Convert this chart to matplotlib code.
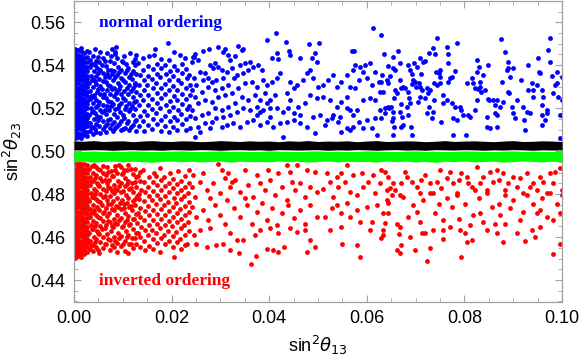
import numpy as np
import matplotlib
matplotlib.use('Agg')
import matplotlib.pyplot as plt
from matplotlib.ticker import MultipleLocator

# all values below are in units of 1e-3 (x = sin^2 theta13, y = sin^2 theta23)

# normal ordering (blue): packed column next to x = 0, then loose points
blue_strip_x = [0.2, 0.8, 1.4, 2.0, 2.6]
blue_strip_y = [
    [506.0, 507.9, 509.7, 511.8, 513.6, 515.5, 517.4, 519.3, 521.2, 523.1, 525.0, 526.9, 528.8, 530.7,
     532.6, 534.5, 536.4, 538.3, 540.2, 542.1, 544.0, 545.9, 547.6],
    [506.8, 508.6, 510.6, 512.5, 514.4, 516.3, 518.2, 520.1, 522.0, 523.9, 525.8, 527.7, 529.6, 531.5,
     533.4, 535.3, 537.2, 539.1, 541.0, 542.9, 544.8, 546.9],
    [506.3, 508.2, 510.1, 512.0, 513.9, 515.8, 517.7, 519.6, 521.5, 523.4, 525.3, 527.2, 529.1, 531.0,
     532.9, 534.8, 536.7, 538.6, 540.5, 542.4, 544.3, 546.4, 547.9],
    [507.4, 509.3, 511.2, 513.1, 515.0, 516.9, 518.8, 520.7, 522.6, 524.5, 526.4, 528.3, 530.2, 532.1,
     534.0, 535.9, 537.8, 539.7, 541.6, 543.5, 545.6],
    [507.0, 509.0, 511.5, 513.4, 515.6, 517.2, 519.9, 521.8, 523.5, 525.7, 527.4, 529.8, 531.6, 533.7,
     535.2, 537.5, 539.4, 541.3, 543.9, 546.8],
]
blue_pts = [
    (3.2, 509.5), (3.3, 513.0), (3.1, 516.8), (3.4, 520.3), (3.2, 524.1), (3.3, 528.0), (3.1, 531.7),
    (3.4, 535.2), (3.2, 539.0), (3.3, 542.6), (3.1, 546.0), (3.9, 507.8), (3.8, 511.3), (4.0, 515.0),
    (3.9, 518.6), (3.8, 522.4), (4.0, 526.1), (3.9, 529.9), (3.8, 533.5), (4.0, 537.2), (3.9, 540.8),
    (3.8, 544.2), (4.6, 509.0), (4.5, 512.8), (4.7, 516.5), (4.6, 520.5), (4.5, 524.0), (4.7, 527.6),
    (4.6, 531.3), (4.5, 535.0), (4.7, 538.8), (4.6, 542.0), (4.3, 547.4), (5.3, 508.5), (5.2, 511.8),
    (5.4, 515.7), (5.3, 519.0), (5.2, 522.8), (5.4, 526.5), (5.3, 530.2), (5.2, 533.8), (5.4, 537.6),
    (5.2, 541.3), (5.3, 546.3), (5.9, 510.3), (6.0, 514.2), (5.8, 518.0), (6.0, 521.6), (5.9, 525.4),
    (5.8, 529.0), (6.0, 532.8), (5.9, 536.5), (5.8, 540.2), (6.0, 543.6),
    (3.55, 511.2), (3.6, 518.0), (3.5, 525.9), (3.6, 533.0), (3.55, 540.5), (4.25, 510.5),
    (4.3, 517.9), (4.2, 525.2), (4.3, 532.6), (4.25, 540.1), (4.95, 514.3), (5.0, 521.6),
    (4.9, 529.0), (5.0, 536.3), (4.95, 543.8), (6.25, 511.5), (6.3, 519.2), (6.2, 526.8),
    (6.3, 534.4), (6.25, 541.8), (6.95, 514.6), (7.0, 523.4), (6.9, 530.6), (7.0, 537.8),
    (7.7, 512.8), (7.65, 521.2), (7.75, 529.0), (7.7, 536.0), (7.6, 544.2), (8.5, 511.0),
    (8.45, 519.6), (8.55, 527.0), (8.5, 534.4), (8.45, 545.0), (9.25, 512.6), (9.3, 521.4),
    (9.2, 529.0), (9.3, 537.0), (10.0, 510.5), (9.95, 517.0), (10.05, 524.8), (10.0, 533.0),
    (10.0, 541.4), (10.8, 513.0), (10.75, 521.0), (10.85, 529.4), (10.8, 537.6), (11.6, 511.4),
    (11.55, 519.6), (11.65, 528.0), (11.6, 535.8), (12.4, 514.0), (12.35, 522.8), (12.45, 531.0),
    (12.4, 543.0),
    (6.5, 508.8), (6.7, 512.5), (6.6, 517.2), (6.8, 521.0), (6.5, 524.7), (6.7, 528.4), (6.6, 532.0),
    (6.8, 535.7), (6.5, 539.5), (6.7, 545.6), (7.3, 510.6), (7.4, 515.0), (7.2, 519.2), (7.5, 523.0),
    (7.3, 526.8), (7.4, 530.5), (7.2, 534.3), (7.5, 538.0), (7.7, 547.4), (7.3, 542.0), (8.0, 509.2),
    (8.1, 513.4), (8.2, 517.5), (8.0, 521.8), (8.1, 525.7), (8.2, 529.6), (8.0, 533.2), (8.1, 537.3),
    (8.4, 546.3), (8.7, 548.7), (8.2, 541.0), (8.9, 511.6), (8.8, 515.8), (9.0, 520.1), (8.9, 524.3),
    (8.8, 528.0), (9.0, 531.8), (8.9, 535.6), (9.0, 539.4), (8.8, 543.6), (9.6, 509.7), (9.7, 513.9),
    (9.5, 518.3), (9.7, 522.5), (9.6, 526.4), (9.5, 530.3), (9.7, 534.0), (9.6, 538.0), (9.8, 542.0),
    (10.4, 511.0), (10.3, 515.6), (10.5, 519.8), (10.4, 523.9), (10.3, 528.0), (10.5, 532.1),
    (10.4, 536.2), (10.6, 540.6), (10.3, 544.5), (11.2, 510.0), (11.1, 514.2), (11.3, 518.5),
    (11.2, 522.2), (11.0, 526.6), (11.3, 530.7), (11.2, 534.6), (11.1, 538.5), (11.5, 545.6),
    (12.0, 512.4), (12.1, 516.8), (11.9, 521.0), (12.1, 525.1), (12.0, 529.3), (11.9, 533.4),
    (12.1, 537.2), (12.0, 541.5), (12.8, 544.8), (12.7, 509.5), (12.8, 514.6), (12.6, 519.4),
    (12.8, 523.5), (12.7, 527.5), (12.6, 531.6), (12.8, 535.8), (12.6, 539.9),
    (13.2, 540.9), (13.4, 511.8), (13.5, 516.2), (13.3, 521.6), (13.6, 526.3), (13.4, 531.0),
    (13.5, 535.4), (14.2, 543.2), (14.3, 509.4), (14.2, 514.0), (14.4, 518.7), (14.1, 523.8),
    (14.3, 528.6), (14.4, 533.2), (14.2, 537.6), (15.1, 512.0), (15.0, 517.0), (15.2, 521.4),
    (15.1, 526.0), (15.0, 530.6), (15.2, 535.0), (15.1, 539.5), (15.3, 544.1), (16.0, 510.3),
    (16.1, 515.0), (15.9, 519.8), (16.0, 524.3), (16.2, 529.2), (16.0, 533.8), (16.1, 538.3),
    (16.6, 547.4), (16.4, 544.8), (17.0, 512.6), (16.9, 517.8), (17.1, 522.5), (17.0, 527.2),
    (16.9, 531.6), (17.1, 536.0), (17.0, 540.8), (17.8, 509.6), (17.9, 514.5), (17.7, 520.0),
    (17.9, 524.9), (17.8, 529.6), (17.7, 534.3), (17.9, 538.9), (17.8, 543.0), (18.7, 511.7),
    (18.6, 516.4), (18.8, 521.4), (18.7, 526.7), (18.6, 531.2), (18.8, 535.7), (18.7, 540.0),
    (19.3, 550.2), (19.5, 509.1), (19.6, 513.9), (19.4, 518.6), (19.6, 523.5), (19.5, 528.4),
    (19.4, 533.0), (19.6, 537.4), (19.5, 542.3), (20.4, 546.3), (20.3, 511.2), (20.4, 515.8),
    (20.2, 520.7), (20.4, 525.6), (20.3, 530.5), (20.2, 535.1), (20.4, 539.6), (21.2, 509.8),
    (21.1, 514.3), (21.3, 519.0), (21.2, 523.9), (21.1, 528.7), (21.3, 533.3), (21.2, 537.8),
    (21.7, 544.8), (22.1, 512.5), (22.0, 517.2), (22.2, 522.0), (22.1, 526.8), (22.0, 531.5),
    (22.2, 536.4), (22.7, 543.2), (22.1, 540.6), (23.0, 510.0), (22.9, 514.9), (23.1, 519.7),
    (23.0, 524.5), (22.9, 529.3), (23.1, 534.0), (23.0, 538.4), (23.7, 516.3), (23.6, 521.2),
    (23.8, 526.0), (23.7, 530.8), (23.6, 535.5), (24.5, 544.0), (24.1, 541.7), (23.8, 510.9),
    (41.3, 554.9), (39.6, 551.6), (61.2, 557.4), (43.4, 550.7), (48.2, 549.7), (50.3, 550.2),
    (33.7, 549.1), (34.4, 547.1), (34.7, 547.6), (44.1, 546.8), (56.9, 546.6), (57.4, 546.6),
    (41.5, 545.6), (40.5, 543.5), (41.9, 542.8), (24.7, 545.1), (26.5, 546.8), (27.7, 547.6),
    (29.6, 548.4), (31.0, 547.4), (30.5, 546.3), (31.5, 544.8), (33.0, 544.3), (32.0, 542.4),
    (25.5, 542.4), (24.3, 543.7), (49.4, 545.6), (48.7, 543.2), (49.7, 541.7), (44.3, 544.8),
    (46.3, 543.2), (27.9, 540.1), (28.9, 540.9), (30.3, 537.8), (28.5, 538.6), (29.6, 539.3),
    (32.3, 538.6), (34.0, 540.1), (35.0, 540.9), (36.1, 541.7), (36.7, 539.3), (37.8, 540.1),
    (38.5, 537.8), (35.7, 537.8), (34.7, 536.2), (33.3, 535.5), (32.7, 533.9), (31.3, 537.0),
    (26.8, 536.2), (25.8, 537.0), (24.5, 533.9), (25.1, 530.8), (26.5, 533.1), (27.5, 533.9),
    (28.2, 532.4), (29.2, 533.1), (30.6, 533.9), (31.6, 530.8), (30.3, 529.3), (28.9, 528.5),
    (27.5, 529.7), (26.2, 527.7), (24.8, 525.4), (24.1, 528.5), (25.5, 522.3), (26.8, 523.8),
    (28.2, 523.0), (29.6, 525.4), (31.0, 526.1), (32.3, 526.9), (33.7, 529.3), (35.0, 531.6),
    (36.4, 532.4), (37.4, 530.0), (38.8, 533.1), (39.5, 530.8), (40.5, 532.4), (41.5, 533.9),
    (42.2, 536.2), (41.2, 526.1), (40.2, 523.8), (39.1, 526.9), (38.1, 523.8), (37.1, 526.1),
    (35.7, 523.8), (34.4, 525.4), (33.0, 522.3), (31.6, 520.7), (30.3, 519.2), (28.9, 519.9),
    (27.5, 517.6), (26.2, 516.8), (24.8, 515.3), (24.1, 519.2), (25.5, 511.4), (26.8, 513.0),
    (28.2, 513.7), (29.2, 515.3), (30.6, 516.1), (32.0, 516.8), (33.3, 518.4), (34.7, 519.9),
    (36.1, 519.2), (37.4, 516.8), (38.8, 519.2), (40.2, 516.1), (41.5, 519.9), (42.9, 518.4),
    (44.3, 523.8), (43.6, 526.9), (45.0, 529.3), (44.3, 532.4), (45.6, 530.8), (47.0, 533.1),
    (47.7, 536.2), (48.4, 537.8), (49.0, 533.9), (50.1, 530.0), (51.1, 530.8), (52.1, 533.1),
    (53.1, 535.5), (53.8, 530.0), (54.8, 532.4), (55.9, 535.5), (56.6, 530.0), (55.9, 525.4),
    (54.8, 523.0), (53.8, 520.7), (52.5, 523.8), (51.1, 525.4), (49.7, 524.6), (48.4, 526.1),
    (47.3, 522.3), (46.0, 520.7), (45.0, 517.6), (43.6, 513.7), (42.2, 513.0), (40.8, 511.4),
    (39.5, 513.7), (38.1, 512.2), (36.7, 514.5), (35.4, 513.7), (34.0, 511.4), (32.6, 513.0),
    (31.3, 512.2), (30.3, 511.4), (27.9, 510.6), (25.8, 509.1), (24.7, 506.7), (42.9, 506.7),
    (46.3, 513.0), (47.7, 511.4), (49.0, 516.1), (50.4, 516.8), (51.8, 514.5), (53.1, 516.8),
    (54.5, 516.1), (55.9, 519.9), (57.2, 516.8), (57.9, 519.2), (59.3, 523.8), (60.7, 524.6),
    (61.7, 523.8), (62.7, 527.7), (62.4, 532.4), (61.0, 530.8), (60.0, 533.9), (59.3, 537.0),
    (58.6, 539.3), (59.6, 540.1), (60.7, 540.9), (61.7, 537.0), (63.1, 535.5), (64.1, 533.1),
    (57.6, 540.1), (57.2, 537.8), (58.3, 533.1), (57.6, 529.3), (56.6, 519.2), (55.9, 510.6),
    (56.6, 509.8), (57.2, 511.4), (60.0, 514.5), (61.7, 515.3), (62.7, 519.2), (64.4, 520.7),
    (62.0, 507.5), (61.0, 510.6), (59.3, 510.6), (58.3, 513.7), (49.4, 508.3), (51.4, 512.2),
    (52.8, 515.3), (54.2, 513.7), (54.8, 509.1), (46.3, 516.8), (45.0, 514.5), (43.9, 519.9),
    (40.2, 519.9), (39.5, 522.3), (37.4, 520.7), (38.1, 518.4),
    (62.9, 554.2), (63.6, 545.2), (62.9, 532.4), (63.4, 527.4), (63.7, 520.0), (63.7, 517.6),
    (63.0, 515.3), (64.3, 539.7), (64.7, 535.0), (64.4, 531.9), (65.4, 538.6), (65.8, 537.8),
    (66.3, 546.8), (65.4, 543.7), (64.6, 520.0), (65.0, 520.7), (65.3, 518.4), (65.4, 515.3),
    (65.1, 514.2), (65.6, 511.4), (65.4, 507.5), (65.7, 528.5), (66.1, 527.2), (65.6, 524.6),
    (67.0, 529.3), (67.5, 529.7), (67.8, 529.3), (66.9, 541.2), (66.8, 533.1), (67.1, 522.0),
    (66.8, 518.4), (67.3, 516.1), (67.5, 512.2), (67.1, 511.4), (68.4, 540.1), (68.8, 537.8),
    (69.3, 535.9), (69.5, 533.1), (69.2, 531.3), (68.5, 527.7), (68.7, 524.9), (68.2, 520.7),
    (68.8, 522.3), (68.5, 516.8), (69.0, 511.4), (69.2, 507.5), (69.7, 540.9), (70.2, 539.3),
    (69.8, 532.4), (70.6, 531.6), (70.0, 529.7), (70.4, 523.0), (70.8, 525.4), (70.8, 543.2),
    (71.6, 541.7), (71.9, 542.1), (71.2, 535.9), (70.9, 529.7), (71.4, 528.5), (72.3, 529.3),
    (71.9, 524.6), (72.6, 526.9), (73.0, 528.5), (72.7, 520.4), (72.3, 517.6), (73.3, 515.3),
    (73.6, 518.4), (73.8, 523.8), (72.8, 545.6), (73.5, 547.9), (74.3, 552.5), (74.0, 545.2),
    (74.7, 536.2), (74.2, 537.0), (74.9, 537.8), (75.0, 534.7), (73.8, 531.6), (74.3, 530.8),
    (75.3, 513.7), (74.9, 531.6), (75.7, 526.1), (75.7, 522.3), (76.4, 523.8), (76.4, 548.7),
    (76.7, 545.2), (76.6, 540.9), (77.0, 533.9), (77.4, 534.4), (76.7, 532.4), (78.4, 550.5),
    (78.1, 537.5), (77.4, 522.3), (78.1, 520.7), (77.6, 515.3), (77.7, 507.5), (78.4, 514.5),
    (79.4, 519.2), (79.8, 516.8), (80.5, 531.6), (80.3, 507.5), (79.1, 520.7), (80.8, 516.8),
    (81.1, 516.1), (81.5, 533.9), (81.8, 531.6), (82.2, 529.3), (82.5, 542.4), (82.9, 539.3),
    (82.6, 537.0), (82.2, 519.2), (82.5, 523.8), (82.7, 528.8), (83.2, 529.7), (83.5, 527.7),
    (83.2, 532.4), (83.9, 535.5), (84.2, 528.5), (84.6, 511.4), (84.8, 524.1), (84.9, 540.1),
    (85.1, 523.8), (85.2, 510.6), (84.6, 516.1), (85.9, 523.8), (86.3, 521.5), (86.3, 517.6),
    (86.6, 516.8), (86.7, 523.8), (87.2, 520.7), (86.7, 511.4), (87.4, 552.4), (88.3, 546.3),
    (88.0, 523.0), (87.8, 532.4), (88.7, 537.8), (88.9, 538.9), (89.0, 541.7), (89.3, 534.7),
    (89.0, 527.7), (89.2, 526.9), (89.7, 520.7), (90.0, 517.6), (90.4, 515.3), (90.0, 538.6),
    (90.7, 523.8), (91.7, 533.1), (92.1, 520.7), (92.3, 514.5), (92.8, 518.4), (92.5, 509.8),
    (93.1, 540.1), (93.1, 528.5), (93.8, 531.6), (94.0, 528.5), (93.4, 517.6), (94.1, 525.4),
    (94.8, 530.8), (95.1, 543.2), (95.3, 537.0), (95.5, 536.2), (95.8, 528.5), (96.2, 525.4),
    (95.8, 521.5), (96.0, 516.8), (95.8, 512.2), (96.5, 514.5), (96.9, 517.6), (97.2, 547.1),
    (97.5, 552.9), (97.5, 541.7), (96.9, 519.2), (97.9, 535.0), (98.2, 526.9), (98.6, 530.8),
    (98.9, 531.6), (98.9, 537.0), (99.2, 525.4), (99.6, 516.8), (99.9, 534.7), (99.9, 523.8),
    (99.5, 506.0), (99.9, 516.8),
]

# inverted ordering (red)
red_strip_x = [0.2, 0.8, 1.4, 2.0, 2.6]
red_strip_y = [
    [450.2, 452.0, 453.9, 455.8, 457.7, 459.6, 461.5, 463.4, 465.3, 467.2, 469.1, 471.0, 472.9, 474.8,
     476.7, 478.6, 480.5, 482.4, 484.3, 486.2, 488.1, 490.0, 491.9, 493.8],
    [451.0, 452.9, 454.8, 456.7, 458.6, 460.5, 462.4, 464.3, 466.2, 468.1, 470.0, 471.9, 473.8, 475.7,
     477.6, 479.5, 481.4, 483.3, 485.2, 487.1, 489.0, 490.9, 492.8, 494.5],
    [450.8, 452.7, 454.6, 456.5, 458.4, 460.3, 462.2, 464.1, 466.0, 467.9, 469.8, 471.7, 473.6, 475.5,
     477.4, 479.3, 481.2, 483.1, 485.0, 486.9, 488.8, 490.7, 492.6, 494.2],
    [452.0, 453.9, 455.8, 457.7, 459.6, 461.5, 463.4, 465.3, 467.2, 469.1, 471.0, 472.9, 474.8, 476.7,
     478.6, 480.5, 482.4, 484.3, 486.2, 488.1, 490.0, 491.9, 493.8],
    [453.1, 455.3, 457.2, 459.0, 461.1, 463.0, 464.8, 466.9, 468.7, 470.6, 472.6, 474.4, 476.3, 478.2,
     480.2, 482.0, 484.0, 485.8, 487.7, 489.7, 491.5, 493.4],
]
red_pts = [
    (3.2, 454.5), (3.3, 458.2), (3.1, 462.0), (3.4, 465.8), (3.2, 469.5), (3.3, 473.2), (3.1, 477.0),
    (3.4, 480.6), (3.2, 484.4), (3.3, 488.0), (3.1, 491.8), (3.9, 453.3), (3.8, 456.4), (4.0, 460.1),
    (3.9, 463.8), (3.8, 467.6), (4.0, 471.3), (3.9, 475.0), (3.8, 478.8), (4.0, 482.5), (3.9, 486.1),
    (3.8, 489.9), (4.0, 493.5), (4.6, 455.6), (4.5, 459.3), (4.7, 463.0), (4.6, 466.7), (4.5, 470.4),
    (4.7, 474.1), (4.6, 477.9), (4.5, 481.5), (4.7, 485.3), (4.6, 489.0), (4.5, 492.4), (5.1, 452.6),
    (5.3, 457.8), (5.2, 461.4), (5.4, 465.2), (5.3, 468.9), (5.2, 472.6), (5.4, 476.3), (5.3, 480.0),
    (5.2, 483.7), (5.4, 487.4), (5.3, 491.0), (5.9, 454.7), (6.0, 459.9), (5.8, 463.6), (6.0, 467.3),
    (5.9, 471.0), (5.8, 474.8), (6.0, 478.5), (5.9, 482.2), (5.8, 486.0), (6.0, 489.6), (5.9, 493.0),
    (3.55, 456.2), (3.6, 463.6), (3.5, 471.1), (3.6, 478.6), (3.55, 486.0), (3.6, 493.0),
    (4.25, 457.5), (4.3, 465.0), (4.2, 472.6), (4.3, 480.2), (4.25, 487.6), (4.95, 454.0),
    (5.0, 461.8), (4.9, 469.2), (5.0, 476.8), (4.95, 484.4), (4.9, 491.5), (6.25, 456.6),
    (6.3, 464.0), (6.2, 471.6), (6.3, 479.0), (6.25, 486.8), (6.95, 459.0), (7.0, 467.4),
    (6.9, 475.6), (7.0, 483.2), (6.95, 490.2), (7.75, 456.2), (7.7, 465.0), (7.8, 473.0),
    (7.7, 481.6), (7.75, 488.6), (8.5, 458.0), (8.45, 466.4), (8.55, 474.4), (8.5, 482.4),
    (8.5, 491.0), (9.3, 459.6), (9.25, 468.0), (9.35, 476.0), (9.3, 484.0), (9.3, 493.4),
    (10.1, 456.8), (10.05, 465.2), (10.15, 473.4), (10.1, 481.4), (10.1, 489.6), (10.85, 459.8),
    (10.8, 467.8), (10.9, 476.0), (10.85, 484.6), (10.8, 491.0), (11.6, 457.0), (11.55, 466.0),
    (11.65, 474.6), (11.6, 483.0), (11.6, 491.8), (12.4, 459.6), (12.35, 468.6), (12.45, 477.6),
    (12.4, 485.8), (13.2, 462.0), (13.15, 471.2), (13.25, 480.0), (13.2, 488.4),
    (6.6, 456.8), (6.7, 461.2), (6.5, 465.5), (6.8, 469.8), (6.6, 473.6), (6.7, 477.4), (6.5, 481.3),
    (6.8, 485.0), (6.6, 488.8), (6.7, 492.5), (7.4, 453.9), (7.3, 458.6), (7.5, 463.0), (7.4, 467.1),
    (7.2, 471.4), (7.5, 475.4), (7.3, 479.2), (7.4, 483.0), (7.2, 486.8), (7.5, 490.6), (8.1, 455.2),
    (8.2, 460.0), (8.0, 464.6), (8.2, 468.6), (8.1, 472.7), (8.0, 476.6), (8.2, 480.5), (8.1, 484.4),
    (8.0, 488.2), (8.3, 493.0), (8.9, 452.9), (8.8, 457.3), (9.0, 461.8), (8.9, 466.0), (8.8, 470.2),
    (9.0, 474.2), (8.9, 478.0), (8.8, 482.0), (9.0, 486.0), (8.9, 490.0), (9.7, 455.8), (9.6, 460.5),
    (9.8, 464.9), (9.7, 469.0), (9.6, 473.0), (9.8, 477.2), (9.7, 481.2), (9.6, 485.2), (9.8, 489.2),
    (9.6, 492.8), (10.5, 453.7), (10.4, 458.3), (10.6, 462.6), (10.4, 467.0), (10.5, 471.4),
    (10.3, 475.6), (10.6, 479.6), (10.4, 483.7), (10.5, 487.6), (10.3, 491.4), (11.1, 452.4),
    (11.2, 456.9), (11.0, 461.0), (11.3, 465.6), (11.1, 469.8), (11.2, 474.0), (11.0, 478.2),
    (11.3, 482.4), (11.1, 486.3), (11.1, 493.5), (12.0, 454.8), (11.9, 459.4), (12.1, 463.8),
    (12.0, 468.2), (11.9, 472.5), (12.1, 476.7), (12.0, 480.8), (11.9, 485.0), (12.1, 489.2),
    (12.8, 457.0), (12.7, 461.9), (12.9, 466.4), (12.8, 470.8), (12.6, 475.1), (12.9, 479.3),
    (12.7, 483.5), (12.8, 487.8), (12.6, 491.6), (13.6, 455.5), (13.5, 460.2), (13.7, 464.6),
    (13.5, 469.2), (13.6, 473.6), (13.4, 477.8), (13.7, 482.0), (13.5, 486.2), (13.6, 490.4),
    (14.5, 453.9), (14.4, 458.4), (14.6, 463.1), (14.3, 467.8), (14.5, 472.3), (14.4, 476.8),
    (14.6, 481.2), (14.4, 485.5), (14.2, 491.2), (15.3, 456.0), (15.2, 460.8), (15.4, 465.5),
    (15.3, 470.1), (15.1, 474.5), (15.4, 479.0), (15.2, 483.4), (15.3, 487.9), (16.1, 454.6),
    (16.2, 459.0), (16.0, 463.4), (16.2, 468.0), (16.1, 472.6), (16.0, 477.1), (16.2, 481.4),
    (16.1, 485.8), (16.3, 490.0), (17.0, 457.3), (16.9, 461.8), (17.1, 466.2), (17.0, 470.8),
    (16.9, 475.3), (17.1, 479.7), (17.0, 484.2), (16.9, 488.5), (17.6, 453.1), (17.8, 459.6),
    (17.7, 464.2), (17.9, 468.6), (17.8, 473.2), (17.7, 477.6), (17.9, 482.1), (17.8, 486.4),
    (17.7, 492.0), (18.6, 456.7), (18.5, 461.0), (18.7, 465.6), (18.6, 470.3), (18.5, 474.8),
    (18.7, 479.2), (18.6, 483.7), (18.5, 488.0), (19.4, 458.4), (19.3, 463.0), (19.5, 467.5),
    (19.4, 472.0), (19.3, 476.4), (19.5, 481.0), (19.4, 485.4), (19.6, 489.6), (20.4, 450.8),
    (20.2, 455.4), (20.3, 460.3), (20.1, 465.0), (20.3, 469.4), (20.2, 474.0), (20.4, 478.4),
    (20.2, 482.9), (20.3, 487.2), (21.1, 457.7), (21.0, 462.2), (21.2, 466.8), (21.1, 471.4),
    (21.0, 475.8), (21.2, 480.3), (21.1, 484.6), (21.3, 490.6), (21.9, 454.5), (21.8, 459.3),
    (22.0, 464.0), (21.9, 468.4), (21.8, 473.0), (22.0, 477.5), (21.9, 481.8), (22.0, 486.0),
    (22.7, 456.2), (22.8, 461.0), (22.6, 465.6), (22.8, 470.1), (22.7, 474.6), (22.6, 479.0),
    (22.8, 483.4), (22.7, 488.4), (23.1, 457.0), (23.5, 462.8), (23.4, 467.2), (23.6, 471.8),
    (23.5, 476.3), (23.4, 480.7), (23.6, 485.0), (23.5, 491.0),
    (24.4, 488.9), (26.5, 489.6), (29.6, 494.0), (30.3, 491.2), (31.6, 489.6), (32.3, 485.8),
    (35.0, 491.2), (37.4, 488.9), (39.8, 491.2), (41.9, 489.6), (43.6, 493.5), (44.3, 490.4),
    (45.6, 493.5), (47.7, 491.2), (49.4, 490.4), (51.8, 489.6), (53.8, 488.1), (54.8, 489.6),
    (55.9, 493.5), (57.2, 488.9), (59.0, 489.6), (61.3, 488.9), (63.0, 491.2), (24.1, 483.4),
    (25.8, 485.8), (27.2, 481.9), (28.5, 485.0), (29.9, 480.3), (31.0, 487.3), (32.0, 483.4),
    (33.0, 486.5), (34.0, 481.1), (35.7, 484.2), (36.7, 478.8), (38.1, 485.0), (39.1, 481.9),
    (40.2, 486.5), (41.2, 479.5), (42.6, 483.4), (44.6, 485.8), (45.3, 481.9), (46.3, 485.0),
    (47.3, 478.8), (48.4, 483.4), (49.7, 481.1), (51.1, 482.6), (52.5, 485.8), (53.1, 478.8),
    (54.2, 483.4), (55.5, 485.8), (56.6, 481.1), (57.9, 479.5), (59.3, 483.4), (60.3, 485.8),
    (61.7, 480.3), (62.7, 485.0), (64.1, 481.9), (24.8, 478.8), (27.9, 478.0), (31.3, 477.2),
    (35.0, 478.0), (43.6, 477.2), (24.1, 474.1), (25.1, 469.4), (26.5, 472.5), (27.5, 467.9),
    (28.9, 474.9), (29.9, 470.2), (31.0, 466.3), (32.7, 473.3), (34.0, 469.4), (35.4, 474.9),
    (36.4, 466.3), (37.4, 471.8), (38.5, 475.7), (39.5, 467.9), (40.5, 473.3), (41.5, 465.6),
    (42.6, 471.0), (43.9, 474.9), (45.0, 468.7), (46.3, 472.5), (47.3, 466.3), (48.4, 474.9),
    (49.7, 469.4), (51.4, 469.4), (52.8, 473.3), (53.8, 474.9), (54.8, 471.0), (55.9, 475.7),
    (56.6, 469.4), (57.9, 472.5), (58.6, 467.1), (60.0, 474.1), (61.0, 467.1), (62.0, 474.9),
    (63.4, 471.0), (64.4, 475.7), (24.5, 460.9), (25.8, 463.2), (27.9, 464.0), (29.2, 456.2),
    (30.6, 457.0), (32.0, 461.7), (33.3, 458.6), (34.7, 458.6), (37.1, 460.9), (38.1, 463.2),
    (40.2, 464.0), (41.9, 461.7), (44.3, 464.0), (45.6, 462.5), (47.3, 463.2), (48.4, 458.6),
    (52.5, 463.2), (54.8, 464.8), (60.7, 463.2), (63.0, 459.4), (63.4, 460.9), (25.1, 457.0),
    (27.2, 455.5), (36.3, 447.4), (37.2, 451.1), (33.8, 452.4), (32.0, 453.9), (39.5, 454.4),
    (40.8, 453.9), (43.1, 455.5), (47.7, 453.1), (49.3, 455.2), (55.0, 457.0), (57.9, 456.2),
    (58.7, 450.5), (41.9, 453.1),
    (63.7, 490.5), (64.4, 488.1), (65.4, 485.0), (65.8, 481.9), (67.8, 490.5), (68.2, 488.1),
    (69.2, 485.8), (70.2, 483.5), (71.9, 488.9), (73.0, 485.0), (75.0, 491.2), (75.3, 482.7),
    (76.4, 487.4), (77.7, 485.0), (79.4, 489.7), (80.5, 488.1), (81.5, 483.5), (82.5, 492.8),
    (83.2, 485.0), (83.9, 488.1), (84.6, 481.9), (85.2, 490.5), (86.6, 491.2), (87.0, 486.6),
    (89.0, 485.0), (90.0, 488.1), (90.7, 483.5), (92.8, 489.7), (94.1, 485.0), (95.5, 488.1),
    (97.5, 489.7), (98.6, 490.5), (99.6, 492.0), (99.9, 481.9), (66.8, 479.6), (70.9, 480.4),
    (73.6, 480.4), (78.4, 480.4), (88.3, 481.9), (92.1, 480.4), (94.8, 481.9), (96.9, 480.4),
    (64.7, 482.7), (67.1, 485.0), (71.2, 486.6), (74.3, 485.8), (77.0, 490.5), (78.8, 486.6),
    (80.8, 485.0), (82.2, 481.9), (85.9, 485.8), (88.0, 489.7), (91.4, 487.4), (93.4, 483.5),
    (96.2, 485.8), (98.2, 485.0),
    (63.7, 466.6), (66.1, 466.3), (66.5, 461.3), (66.8, 464.8), (68.8, 460.1), (70.9, 467.1),
    (73.6, 463.2), (75.7, 467.9), (77.0, 464.8), (77.4, 474.1), (79.1, 463.2), (81.1, 465.5),
    (81.8, 470.2), (83.2, 471.0), (84.6, 463.2), (86.3, 466.3), (87.0, 475.6), (88.3, 466.3),
    (89.3, 473.3), (91.4, 467.9), (93.8, 463.2), (94.8, 471.0), (95.5, 472.5), (96.9, 469.4),
    (72.3, 448.8), (79.4, 450.5), (98.1, 451.9), (99.6, 457.0), (66.1, 454.2), (66.9, 452.6),
    (67.1, 456.5), (69.8, 453.9), (73.0, 455.0), (75.7, 458.9), (80.6, 457.8), (81.6, 458.5),
    (88.0, 457.8), (92.4, 458.1), (94.5, 460.1), (90.7, 462.0), (71.4, 462.1), (71.9, 462.0),
    (64.1, 477.2), (65.1, 479.5), (67.5, 478.7), (69.5, 474.9), (71.6, 477.2), (73.0, 480.3),
    (74.7, 475.6), (76.4, 478.0), (78.4, 479.5), (80.1, 475.6), (82.9, 478.0), (84.6, 480.3),
    (85.6, 474.1), (88.3, 479.5), (90.0, 477.2), (92.8, 479.5), (94.1, 475.6), (95.8, 478.0),
    (97.5, 480.3), (98.9, 475.6), (99.9, 479.5), (64.4, 471.0), (68.5, 469.4), (70.2, 471.8),
    (74.0, 471.0), (78.8, 468.6), (83.9, 467.1), (87.3, 470.2), (92.1, 471.8), (98.2, 467.9),
    (99.6, 471.0), (63.4, 463.2), (75.7, 463.2), (80.1, 461.7), (86.6, 461.7), (95.5, 464.8),
]

# dense black / green bands: edges sampled every 0.002
band_x = [0, 2, 4, 6, 8, 10, 12, 14, 16, 18, 20, 22, 24, 26, 28, 30, 32, 34, 36, 38, 40, 42, 44, 46, 48,
          50, 52, 54, 56, 58, 60, 62, 64, 66, 68, 70, 72, 74, 76, 78, 80, 82, 84, 86, 88, 90, 92, 94, 96,
          98, 100]
black_top = [504.8, 504.6, 504.9, 504.5, 504.7, 504.8, 504.4, 504.7, 504.9, 504.6, 504.5, 504.8, 504.7,
             504.4, 504.6, 504.9, 504.7, 504.5, 504.8, 504.6, 504.7, 504.4, 504.8, 504.6, 504.9, 504.5,
             504.7, 504.6, 504.8, 504.4, 504.7, 504.9, 504.5, 504.6, 504.8, 504.7, 504.4, 504.6, 504.9,
             504.5, 504.7, 504.8, 504.6, 504.4, 504.7, 504.9, 504.5, 504.6, 504.8, 504.7, 504.5]
black_bot = [500.6, 500.5, 500.7, 500.6, 500.4, 500.6, 500.7, 500.5, 500.6, 500.4, 500.7, 500.6, 500.5,
             500.7, 500.6, 500.4, 500.6, 500.7, 500.5, 500.6, 500.4, 500.7, 500.6, 500.5, 500.6, 500.7,
             500.4, 500.6, 500.5, 500.7, 500.6, 500.4, 500.6, 500.7, 500.5, 500.6, 500.4, 500.7, 500.6,
             500.5, 500.7, 500.6, 500.4, 500.6, 500.5, 500.7, 500.6, 500.4, 500.6, 500.5, 500.6]
green_top = [500.0, 499.9, 500.1, 499.8, 500.0, 499.9, 500.1, 500.0, 499.8, 499.9, 500.0, 500.1, 499.9,
             499.8, 500.0, 500.1, 499.9, 500.0, 499.8, 499.9, 500.1, 500.0, 499.9, 499.8, 500.0, 500.1,
             499.9, 500.0, 499.8, 499.9, 500.1, 500.0, 499.9, 499.8, 500.0, 500.1, 499.9, 500.0, 499.8,
             499.9, 500.1, 500.0, 499.9, 499.8, 500.0, 500.1, 499.9, 500.0, 499.9, 499.8, 500.0]
green_bot = [495.0, 495.3, 494.9, 495.2, 495.4, 495.0, 495.3, 495.1, 494.8, 495.2, 495.4, 495.1, 495.3,
             495.0, 495.2, 495.4, 494.9, 495.3, 495.1, 495.2, 495.0, 495.4, 495.1, 495.3, 494.9, 495.2,
             495.4, 495.0, 495.3, 495.1, 495.2, 494.9, 495.4, 495.1, 495.3, 495.0, 495.2, 494.8, 495.3,
             495.1, 495.4, 495.0, 495.2, 495.3, 494.9, 495.1, 495.4, 495.2, 495.0, 495.3, 495.1]


def collect(strip_x, strip_y, pts):
    xs = [x for x, ys in zip(strip_x, strip_y) for _ in ys]
    ys = [y for col in strip_y for y in col]
    xs += [p[0] for p in pts]
    ys += [p[1] for p in pts]
    return np.array(xs) / 1000, np.array(ys) / 1000


bx, by = collect(blue_strip_x, blue_strip_y, blue_pts)
rx, ry = collect(red_strip_x, red_strip_y, red_pts)
band = np.array(band_x) / 1000

plt.rcParams['font.family'] = ['Liberation Sans', 'DejaVu Sans']
plt.rcParams['mathtext.fontset'] = 'dejavusans'

fig = plt.figure(figsize=(5.81, 3.6), dpi=100)
ax = fig.add_axes([74 / 581, 1 - 301.5 / 360, 488 / 581, 300.7 / 360])

dot = 12
ax.scatter(bx, by, s=dot, c='#0000ff', linewidths=0, zorder=2)
ax.scatter(rx, ry, s=dot, c='#ff0000', linewidths=0, zorder=2)
ax.fill_between(band, np.array(green_bot) / 1000, np.array(green_top) / 1000,
                color='#00ff00', linewidth=0, zorder=3)
ax.fill_between(band, np.array(black_bot) / 1000, np.array(black_top) / 1000,
                color='black', linewidth=0, zorder=3)

ax.set_xlim(0, 0.1)
ax.set_ylim(0.43, 0.57)
ax.xaxis.set_major_locator(MultipleLocator(0.02))
ax.xaxis.set_minor_locator(MultipleLocator(0.005))
ax.yaxis.set_major_locator(MultipleLocator(0.02))
ax.yaxis.set_minor_locator(MultipleLocator(0.005))
ax.xaxis.set_major_formatter(matplotlib.ticker.FormatStrFormatter('%.2f'))
ax.yaxis.set_major_formatter(matplotlib.ticker.FormatStrFormatter('%.2f'))

frame = '#a0a0a0'
for sp in ax.spines.values():
    sp.set_color(frame)
    sp.set_linewidth(0.9)
ax.tick_params(which='both', direction='in', top=True, right=True, color=frame,
               labelsize=13, labelcolor='black')
ax.tick_params(which='major', length=5, width=0.8, pad=6)
ax.tick_params(which='minor', length=2.8, width=0.6)

ax.set_xlabel(r'sin$^2\theta_{13}$', fontsize=13, labelpad=5)
ax.set_ylabel(r'sin$^2\theta_{23}$', fontsize=13, labelpad=5)

ax.text(0.0051, 0.5579, 'normal ordering', color='#0000ff', fontsize=12.5,
        fontweight='bold', family='Liberation Serif', va='baseline')
ax.text(0.0051, 0.4376, 'inverted ordering', color='#ff0000', fontsize=12.5,
        fontweight='bold', family='Liberation Serif', va='baseline')

fig.savefig('out.png', dpi=100)
